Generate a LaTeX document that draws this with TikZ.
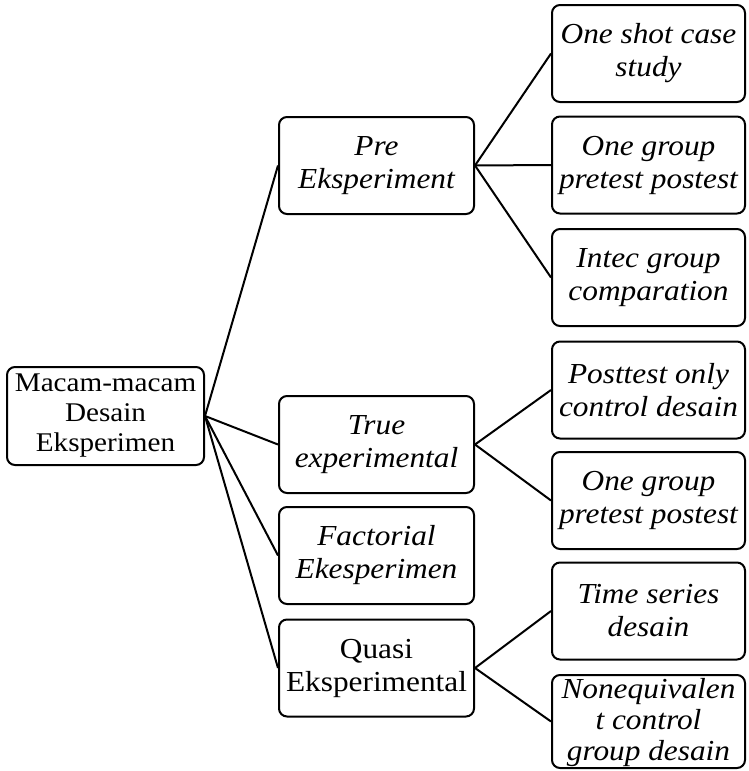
\documentclass[tikz,border=0pt]{standalone}
\usepackage{fontspec}
\setmainfont{Liberation Serif}[FakeStretch=1.08]
\begin{document}
\begin{tikzpicture}[x=1pt,y=-1pt,
  box/.style={draw, line width=2pt, rounded corners=8pt, inner sep=0pt,
    align=center, font=\fontsize{29}{33}\selectfont},
  rootbox/.style={box, minimum width=197pt, minimum height=98pt, font=\fontsize{27}{30}\selectfont},
  midbox/.style={box, minimum width=195pt, minimum height=97pt},
  leafbox/.style={box, minimum width=193pt, minimum height=97pt},
  it/.style={font=\fontsize{29}{33}\selectfont\itshape},
  link/.style={line width=2pt}]
\useasboundingbox (0,0) rectangle (749,771);
% root
\node[rootbox] (root) at (105.5,416) {Macam-macam\\Desain\\Eksperimen};
% middle column
\node[midbox,it] (pre) at (376.5,165.5) {Pre\\Eksperiment};
\node[midbox,it] (true) at (376.5,444.5) {True\\experimental};
\node[midbox,it] (fact) at (376.5,555.5) {Factorial\\Ekesperimen};
\node[midbox] (quasi) at (376.5,668) {Quasi\\Eksperimental};
% leaves
\node[leafbox,it] (l1) at (648.5,53.5) {One shot case\\study};
\node[leafbox,it] (l2) at (648.5,165) {One group\\pretest postest};
\node[leafbox,it] (l3) at (648.5,277.5) {Intec group\\comparation};
\node[leafbox,it] (l4) at (648.5,390) {Posttest only\\control desain};
\node[leafbox,it] (l5) at (648.5,500.5) {One group\\pretest postest};
\node[leafbox,it] (l6) at (648.5,611) {Time series\\desain};
\node[leafbox,minimum height=93pt] (l7) at (648.5,721.5) {};
\node[align=center, inner sep=0pt, font=\fontsize{29}{31}\selectfont\itshape] (l7t) at (648.5,723) {Nonequivalen\\t control\\group desain};
% connectors
\draw[link] (root.east) -- (pre.west);
\draw[link] (root.east) -- (true.west);
\draw[link] (root.east) -- (fact.west);
\draw[link] (root.east) -- (quasi.west);
\draw[link] (pre.east) -- (l1.west);
\draw[link] (pre.east) -- (l2.west);
\draw[link] (pre.east) -- (l3.west);
\draw[link] (true.east) -- (l4.west);
\draw[link] (true.east) -- (l5.west);
\draw[link] (quasi.east) -- (l6.west);
\draw[link] (quasi.east) -- (l7.west);
\end{tikzpicture}
\end{document}
